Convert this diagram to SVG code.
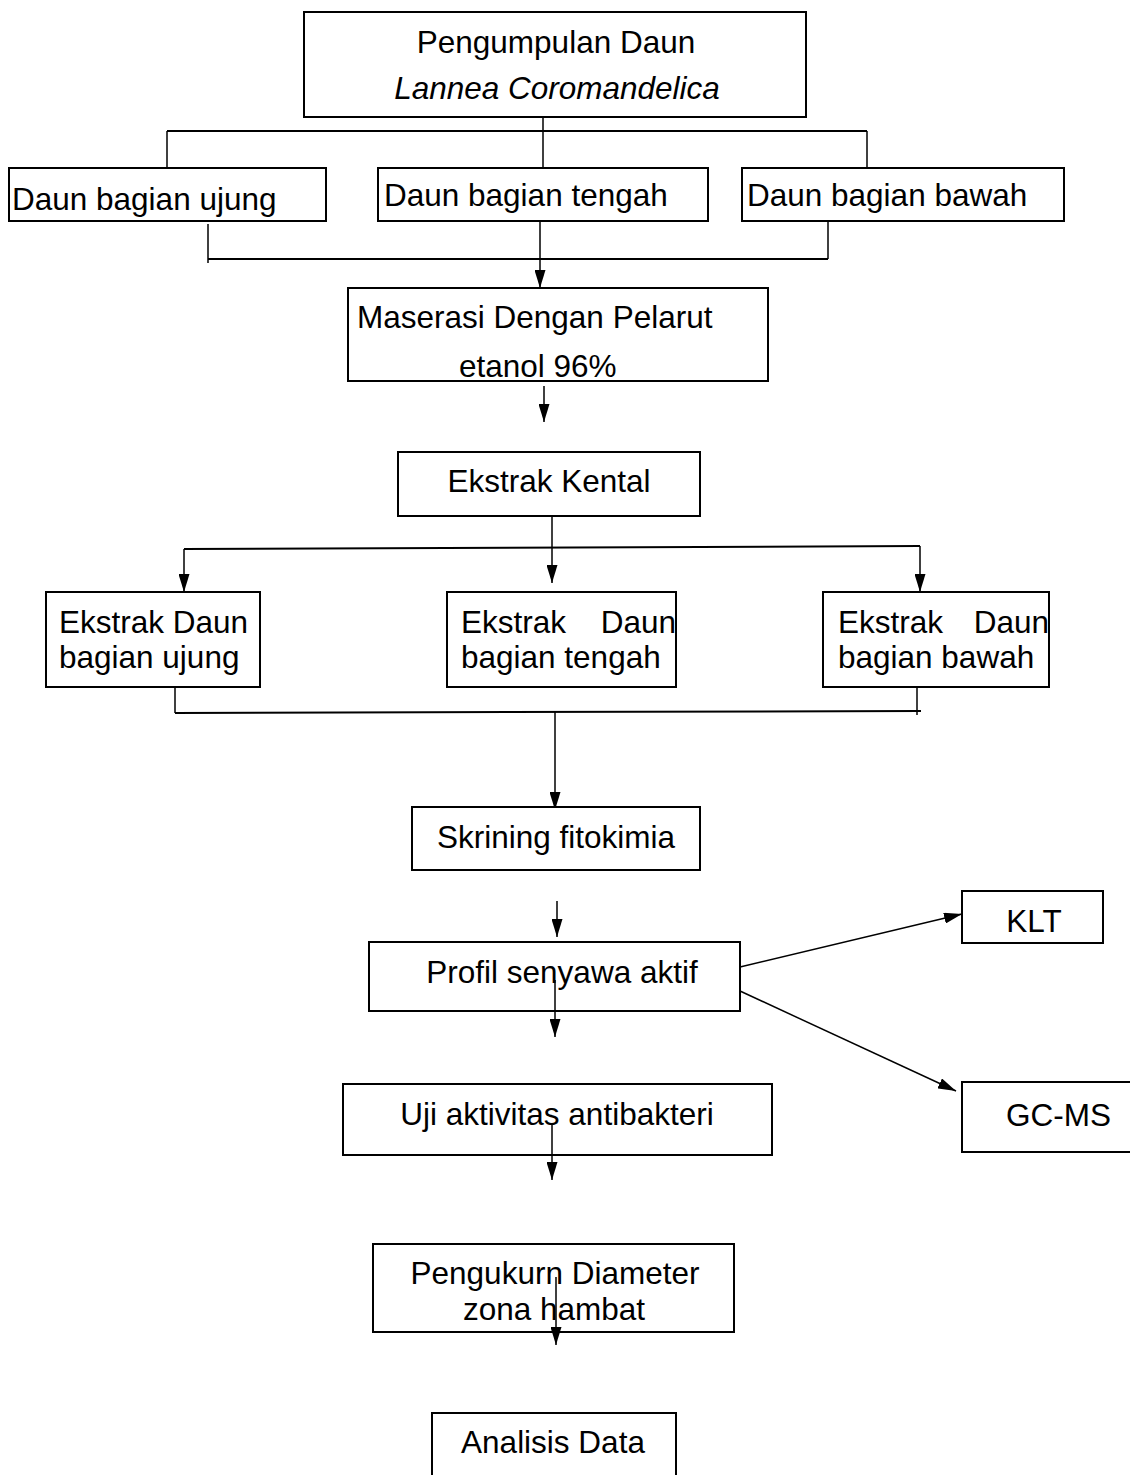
<svg xmlns="http://www.w3.org/2000/svg" width="1130" height="1475" viewBox="0 0 1130 1475">
<style>
.box{fill:#fff;stroke:#000;stroke-width:2}
.t{font-family:"Liberation Sans",Arial,sans-serif;font-size:31.5px;fill:#000}
.c{fill:none;stroke:#000;stroke-width:1.5}
</style>
<defs>
<marker id="ah" markerUnits="userSpaceOnUse" viewBox="0 0 18 11" refX="18" refY="5.5" markerWidth="18" markerHeight="11" orient="auto">
<path d="M0,0 L18,5.5 L0,11 z" fill="#000"/>
</marker>
</defs>
<rect width="1130" height="1475" fill="#fff"/>
<g id="connectors">
<line class="c" x1="543" y1="117" x2="543" y2="168"/>
<line class="c" x1="167" y1="131" x2="867" y2="131" style="stroke-width:2"/>
<line class="c" x1="167" y1="131" x2="167" y2="170"/>
<line class="c" x1="867" y1="131" x2="867" y2="168"/>
<line class="c" x1="208" y1="224" x2="208" y2="263"/>
<line class="c" x1="208" y1="259" x2="828" y2="259" style="stroke-width:2"/>
<line class="c" x1="828" y1="218" x2="828" y2="259"/>
<line class="c" x1="540" y1="221" x2="540" y2="288" marker-end="url(#ah)"/>
<line class="c" x1="544" y1="386" x2="544" y2="422" marker-end="url(#ah)"/>
<line class="c" x1="552" y1="517" x2="552" y2="583" marker-end="url(#ah)"/>
<line class="c" x1="184" y1="549" x2="920" y2="546" style="stroke-width:2"/>
<line class="c" x1="184" y1="549" x2="184" y2="592" marker-end="url(#ah)"/>
<line class="c" x1="920" y1="546" x2="920" y2="592" marker-end="url(#ah)"/>
<line class="c" x1="175" y1="685" x2="175" y2="713"/>
<line class="c" x1="175" y1="713" x2="921" y2="711" style="stroke-width:2"/>
<line class="c" x1="917" y1="685" x2="917" y2="715"/>
<line class="c" x1="555" y1="712" x2="555" y2="810" marker-end="url(#ah)"/>
<line class="c" x1="557" y1="901" x2="557" y2="937" marker-end="url(#ah)"/>
<line class="c" x1="740" y1="967" x2="962" y2="914" marker-end="url(#ah)"/>
<line class="c" x1="740" y1="991" x2="956" y2="1091" marker-end="url(#ah)"/>
</g>
<g id="n1"><rect class="box" x="304" y="12" width="502" height="105"/>
<text class="t" x="556" y="53" text-anchor="middle">Pengumpulan Daun</text>
<text class="t" x="557" y="99" text-anchor="middle" font-style="italic">Lannea Coromandelica</text></g>
<g id="n2"><rect class="box" x="9" y="168" width="317" height="53"/>
<text class="t" x="12" y="210">Daun bagian ujung</text></g>
<g id="n3"><rect class="box" x="378" y="168" width="330" height="53"/>
<text class="t" x="384" y="206">Daun bagian tengah</text></g>
<g id="n4"><rect class="box" x="742" y="168" width="322" height="53"/>
<text class="t" x="747" y="206">Daun bagian bawah</text></g>
<g id="n5"><rect class="box" x="348" y="288" width="420" height="93"/>
<text class="t" x="357" y="328">Maserasi Dengan Pelarut</text>
<text class="t" x="459" y="377">etanol 96%</text></g>
<g id="n6"><rect class="box" x="398" y="452" width="302" height="64"/>
<text class="t" x="549" y="492" text-anchor="middle">Ekstrak Kental</text></g>
<g id="n7"><rect class="box" x="46" y="592" width="214" height="95"/>
<text class="t" x="59" y="633">Ekstrak Daun</text>
<text class="t" x="59" y="668">bagian ujung</text></g>
<g id="n8"><rect class="box" x="447" y="592" width="229" height="95"/>
<text class="t" x="461" y="633">Ekstrak</text>
<text class="t" x="676" y="633" text-anchor="end">Daun</text>
<text class="t" x="461" y="668">bagian tengah</text></g>
<g id="n9"><rect class="box" x="823" y="592" width="226" height="95"/>
<text class="t" x="838" y="633">Ekstrak</text>
<text class="t" x="1049" y="633" text-anchor="end">Daun</text>
<text class="t" x="838" y="668">bagian bawah</text></g>
<g id="n10"><rect class="box" x="412" y="807" width="288" height="63"/>
<text class="t" x="556" y="848" text-anchor="middle">Skrining fitokimia</text></g>
<g id="n11"><rect class="box" x="369" y="942" width="371" height="69"/>
<text class="t" x="562" y="983" text-anchor="middle">Profil senyawa aktif</text></g>
<g id="n12"><rect class="box" x="962" y="891" width="141" height="52"/>
<text class="t" x="1034" y="932" text-anchor="middle">KLT</text></g>
<g id="n13"><rect class="box" x="962" y="1082" width="175" height="70"/>
<text class="t" x="1006" y="1126">GC-MS</text></g>
<g id="n14"><rect class="box" x="343" y="1084" width="429" height="71"/>
<text class="t" x="557" y="1125" text-anchor="middle">Uji aktivitas antibakteri</text></g>
<g id="n15"><rect class="box" x="373" y="1244" width="361" height="88"/>
<text class="t" x="555" y="1284" text-anchor="middle">Pengukurn Diameter</text>
<text class="t" x="554" y="1320" text-anchor="middle">zona hambat</text></g>
<g id="n16"><rect class="box" x="432" y="1413" width="244" height="80"/>
<text class="t" x="553" y="1453" text-anchor="middle">Analisis Data</text></g>
<g id="connectors-over">
<line class="c" x1="555" y1="980" x2="555" y2="1037" marker-end="url(#ah)"/>
<line class="c" x1="552" y1="1123" x2="552" y2="1180" marker-end="url(#ah)"/>
<line class="c" x1="556" y1="1277" x2="556" y2="1345" marker-end="url(#ah)"/>
</g>
</svg>
